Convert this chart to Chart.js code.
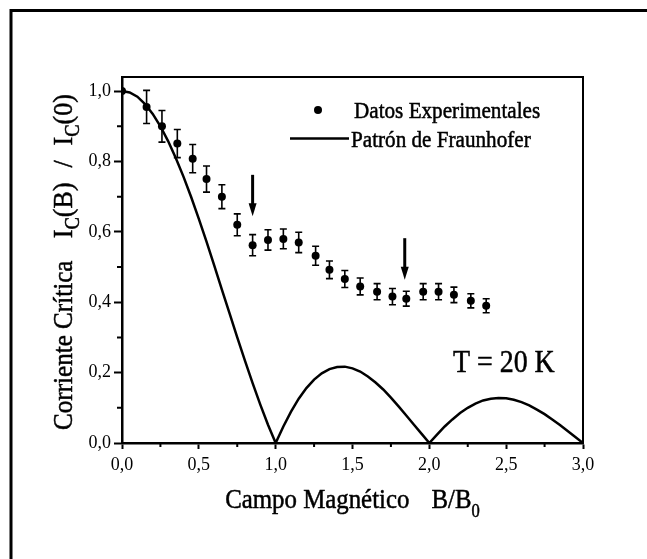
<!DOCTYPE html>
<html lang="es">
<head>
    <meta charset="UTF-8">
    <title>Corriente crítica frente al campo magnético</title>
    <script src="https://cdn.jsdelivr.net/npm/chart.js"></script>
    <style>
        body { margin: 0; background: #fff; }
        canvas { display: block; }
    </style>
</head>
<body>

<canvas id="chart" width="647" height="559"></canvas>

<script>
// Datos experimentales: campo B/B0, Ic(B)/Ic(0) y su barra de error
const campoExp = [0, 0.16, 0.26, 0.36, 0.46, 0.55, 0.65, 0.75, 0.85, 0.95, 1.05, 1.15,
    1.26, 1.35, 1.45, 1.55, 1.66, 1.76, 1.85, 1.96, 2.06, 2.16, 2.27, 2.37];
const corrienteExp = [1.0, 0.955, 0.90, 0.851, 0.808, 0.75, 0.70, 0.62, 0.562, 0.577, 0.58, 0.57,
    0.532, 0.492, 0.466, 0.445, 0.43, 0.416, 0.41, 0.43, 0.43, 0.421, 0.404, 0.39];
const errorExp = [0, 0.047, 0.045, 0.04, 0.04, 0.037, 0.034, 0.031, 0.03, 0.029, 0.028, 0.029,
    0.027, 0.025, 0.024, 0.024, 0.023, 0.023, 0.021, 0.023, 0.023, 0.022, 0.02, 0.02];

// Patrón de Fraunhofer
const campoFraunhofer = [0, 0.05, 0.1, 0.15, 0.2, 0.25, 0.3, 0.35, 0.4, 0.45, 0.5, 0.55, 0.6, 0.65,
    0.7, 0.75, 0.8, 0.85, 0.9, 0.95, 1.0, 1.05, 1.1, 1.15, 1.2, 1.25, 1.3, 1.35, 1.4, 1.45, 1.5,
    1.55, 1.6, 1.65, 1.7, 1.75, 1.8, 1.85, 1.9, 1.95, 2.0, 2.05, 2.1, 2.15, 2.2, 2.25, 2.3, 2.35,
    2.4, 2.45, 2.5, 2.55, 2.6, 2.65, 2.7, 2.75, 2.8, 2.85, 2.9, 2.95, 3.0];
const corrienteFraunhofer = [1.0, 0.996, 0.984, 0.963, 0.935, 0.900, 0.858, 0.810, 0.757, 0.699,
    0.637, 0.572, 0.505, 0.436, 0.368, 0.300, 0.234, 0.170, 0.109, 0.052, 0, 0.047, 0.089, 0.126,
    0.156, 0.180, 0.198, 0.210, 0.216, 0.217, 0.212, 0.203, 0.189, 0.172, 0.152, 0.129, 0.104,
    0.078, 0.052, 0.026, 0, 0.024, 0.047, 0.067, 0.085, 0.100, 0.112, 0.121, 0.126, 0.128, 0.127,
    0.123, 0.116, 0.107, 0.095, 0.082, 0.067, 0.051, 0.034, 0.017, 0];

const ticksX = [0, 0.5, 1.0, 1.5, 2.0, 2.5, 3.0];
const ticksY = [0, 0.2, 0.4, 0.6, 0.8, 1.0];
const menoresX = [0.25, 0.75, 1.25, 1.75, 2.25, 2.75];
const menoresY = [0.1, 0.3, 0.5, 0.7, 0.9];

// Flechas: posición en B/B0, extremo superior y punta
const flechasX = [0.85, 1.84];
const flechasDesde = [0.762, 0.582];
const flechasHasta = [0.644, 0.464];

const serif = '"Liberation Serif", "Times New Roman", serif';

function medir(c, partes) {
    let w = 0;
    partes.forEach(p => {
        c.font = p.size + 'px ' + serif;
        w += (p.gap || 0) + c.measureText(p.t).width;
    });
    return w;
}

// escribe trozos de texto seguidos (con subíndices), algo estrechados
function escribir(c, partes, x, y, escala, centrado) {
    c.save();
    c.translate(x, y);
    c.scale(escala, 1);
    let pos = centrado ? -medir(c, partes) / 2 : 0;
    c.fillStyle = '#000';
    c.strokeStyle = '#000';
    c.lineWidth = 0.5;
    c.textBaseline = 'alphabetic';
    partes.forEach(p => {
        c.font = p.size + 'px ' + serif;
        pos += p.gap || 0;
        c.fillText(p.t, pos, p.dy || 0);
        c.strokeText(p.t, pos, p.dy || 0);
        pos += c.measureText(p.t).width;
    });
    c.restore();
}

const extras = {
    id: 'extras',
    beforeDraw(chart) {
        const c = chart.ctx;
        c.save();
        c.fillStyle = '#fff';
        c.fillRect(0, 0, chart.width, chart.height);
        // marco exterior
        c.strokeStyle = '#000';
        c.lineWidth = 3;
        c.beginPath();
        c.moveTo(11, chart.height);
        c.lineTo(11, 10.5);
        c.lineTo(chart.width, 10.5);
        c.stroke();
        c.restore();
    },
    beforeDatasetsDraw(chart) {
        const c = chart.ctx;
        const sx = chart.scales.x, sy = chart.scales.y;
        c.save();
        c.strokeStyle = '#000';
        c.lineWidth = 1.6;
        campoExp.forEach((x, i) => {
            if (!errorExp[i]) return;
            const px = sx.getPixelForValue(x);
            const y1 = sy.getPixelForValue(corrienteExp[i] + errorExp[i]);
            const y2 = sy.getPixelForValue(corrienteExp[i] - errorExp[i]);
            c.beginPath();
            c.moveTo(px, y1); c.lineTo(px, y2);
            c.moveTo(px - 3.5, y1); c.lineTo(px + 3.5, y1);
            c.moveTo(px - 3.5, y2); c.lineTo(px + 3.5, y2);
            c.stroke();
        });
        c.restore();
    },
    afterDraw(chart) {
        const c = chart.ctx;
        const a = chart.chartArea;
        const sx = chart.scales.x, sy = chart.scales.y;
        c.save();
        c.strokeStyle = '#000';
        c.fillStyle = '#000';

        // lados superior y derecho del recuadro
        c.lineWidth = 2;
        c.beginPath();
        c.moveTo(a.left, a.top);
        c.lineTo(a.right, a.top);
        c.lineTo(a.right, a.bottom);
        c.stroke();

        // marcas menores
        c.lineWidth = 2;
        c.beginPath();
        menoresX.forEach(v => {
            const px = sx.getPixelForValue(v);
            c.moveTo(px, a.bottom); c.lineTo(px, a.bottom + 4);
        });
        menoresY.forEach(v => {
            const py = sy.getPixelForValue(v);
            c.moveTo(a.left, py); c.lineTo(a.left - 5, py);
        });
        c.stroke();

        // flechas
        flechasX.forEach((x, i) => {
            const px = sx.getPixelForValue(x);
            const y1 = sy.getPixelForValue(flechasDesde[i]);
            const y2 = sy.getPixelForValue(flechasHasta[i]);
            c.lineWidth = 3;
            c.beginPath();
            c.moveTo(px, y1); c.lineTo(px, y2 - 10);
            c.stroke();
            c.beginPath();
            c.moveTo(px - 4, y2 - 13);
            c.lineTo(px + 4, y2 - 13);
            c.lineTo(px, y2);
            c.closePath();
            c.fill();
        });

        // leyenda
        c.beginPath();
        c.arc(318, 110, 4, 0, Math.PI * 2);
        c.fill();
        c.lineWidth = 2.5;
        c.beginPath();
        c.moveTo(290, 138.5); c.lineTo(349, 138.5);
        c.stroke();
        escribir(c, [{ t: 'Datos Experimentales', size: 23.5 }], 354, 118, 0.9);
        escribir(c, [{ t: 'Patrón de Fraunhofer', size: 23.5 }], 351, 146.5, 0.9);

        escribir(c, [{ t: 'T = 20 K', size: 31 }], 453, 371.5, 0.9);

        // títulos de los ejes
        escribir(c, [
            { t: 'Campo Magnético', size: 27 },
            { t: 'B/B', size: 27, gap: 24 },
            { t: '0', size: 18, dy: 9 }
        ], (a.left + a.right) / 2, 508, 0.92, true);

        c.save();
        c.translate(72, (a.top + a.bottom) / 2 + 2);
        c.rotate(-Math.PI / 2);
        escribir(c, [
            { t: 'Corriente Crítica', size: 27 },
            { t: 'I', size: 28, gap: 24 },
            { t: 'C', size: 20, dy: 7 },
            { t: '(B)', size: 28 },
            { t: '/', size: 28, gap: 16 },
            { t: 'I', size: 28, gap: 16 },
            { t: 'C', size: 20, dy: 7 },
            { t: '(0)', size: 28 }
        ], 0, 0, 0.93, true);
        c.restore();

        c.restore();
    }
};

const ctx = document.getElementById('chart').getContext('2d');
const chart = new Chart(ctx, {
    type: 'scatter',
    data: {
        datasets: [{
            label: 'Datos Experimentales',
            data: campoExp.map((x, i) => ({ x: x, y: corrienteExp[i] })),
            backgroundColor: '#000',
            borderColor: '#000',
            pointRadius: 4,
            pointBorderWidth: 0
        }, {
            label: 'Patrón de Fraunhofer',
            data: campoFraunhofer.map((x, i) => ({ x: x, y: corrienteFraunhofer[i] })),
            showLine: true,
            borderColor: '#000',
            borderWidth: 2.5,
            pointRadius: 0,
            tension: 0,
            fill: false
        }]
    },
    options: {
        responsive: false,
        animation: false,
        layout: { padding: { top: 77, right: 64, left: 0, bottom: 0 } },
        plugins: {
            legend: { display: false },
            tooltip: { enabled: false }
        },
        scales: {
            x: {
                type: 'linear',
                min: 0,
                max: 3,
                afterFit: s => { s.height = 116; },
                afterBuildTicks: s => { s.ticks = ticksX.map(v => ({ value: v })); },
                ticks: {
                    callback: v => v.toFixed(1).replace('.', ','),
                    font: { family: serif, size: 18 },
                    color: '#000',
                    padding: 5,
                    maxRotation: 0
                },
                grid: { drawOnChartArea: false, tickLength: 6, tickWidth: 2, tickColor: '#000' },
                border: { color: '#000', width: 2.5 }
            },
            y: {
                min: 0,
                max: 1.04,
                afterFit: s => { s.width = 122; },
                afterBuildTicks: s => { s.ticks = ticksY.map(v => ({ value: v })); },
                ticks: {
                    callback: v => v.toFixed(1).replace('.', ','),
                    font: { family: serif, size: 18 },
                    color: '#000',
                    padding: 3
                },
                grid: { drawOnChartArea: false, tickLength: 8, tickWidth: 2, tickColor: '#000' },
                border: { color: '#000', width: 2.5 }
            }
        }
    },
    plugins: [extras]
});
</script>

</body>
</html>
